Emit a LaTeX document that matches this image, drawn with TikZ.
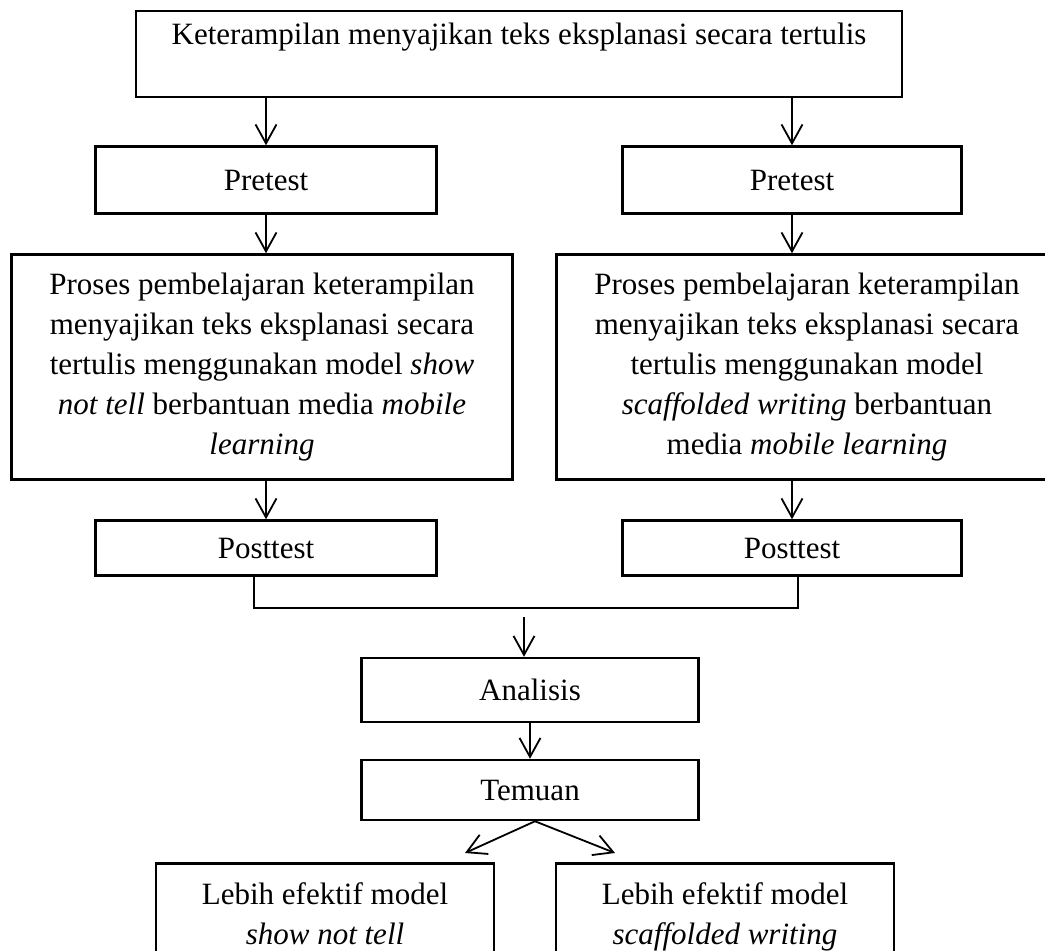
\documentclass[tikz,border=0pt]{standalone}
\usepackage{fontspec}
\setmainfont{Liberation Serif}
\usetikzlibrary{arrows.meta}
\begin{document}
\begin{tikzpicture}[x=1pt,y=-1pt,
    box/.style={draw,line width=2.5pt,inner sep=0pt,align=center,
      font=\fontsize{31}{40}\selectfont},
    arr/.style={line width=1.8pt,-{Straight Barb[length=19pt,width=21pt]}},
    link/.style={line width=1.8pt}]
  \clip (0,0) rectangle (1045,951);
  \node[box,minimum width=766pt,minimum height=86pt] (ketr) at (519,54)
    {Keterampilan menyajikan teks eksplanasi secara tertulis\\ \mbox{}};
  \node[box,minimum width=341pt,minimum height=67pt] (preL) at (266,180) {Pretest};
  \node[box,minimum width=339pt,minimum height=67pt] (preR) at (792,180) {Pretest};
  \node[box,minimum width=501pt,minimum height=225pt] (procL) at (262,367)
    {Proses pembelajaran keterampilan\\
     menyajikan teks eksplanasi secara\\
     tertulis menggunakan model \textit{show}\\
     \textit{not tell} berbantuan media \textit{mobile}\\
     \textit{learning}};
  \node[box,minimum width=501pt,minimum height=225pt] (procR) at (807,367)
    {Proses pembelajaran keterampilan\\
     menyajikan teks eksplanasi secara\\
     tertulis menggunakan model\\
     \textit{scaffolded writing} berbantuan\\
     media \textit{mobile learning}};
  \node[box,minimum width=341pt,minimum height=55pt] (postL) at (266,548) {Posttest};
  \node[box,minimum width=339pt,minimum height=55pt] (postR) at (792,548) {Posttest};
  \node[box,minimum width=337pt,minimum height=64pt] (ana) at (530,690) {Analisis};
  \node[box,minimum width=337pt,minimum height=60pt] (tem) at (530,790) {Temuan};
  \node[box,minimum width=338pt,minimum height=100pt,text depth=0pt,anchor=north] (hasilL) at (325,862)
    {Lebih efektif model\\ \textit{show not tell}};
  \node[box,minimum width=338pt,minimum height=100pt,text depth=0pt,anchor=north] (hasilR) at (725,862)
    {Lebih efektif model\\ \textit{scaffolded writing}};
  \coordinate (joinL) at (254,608);
  \coordinate (joinR) at (798,608);
  \coordinate (anaIn) at (524,617);
  \coordinate (tipL) at (465,853);
  \coordinate (tipR) at (615,853);
  \draw[arr] (ketr.south -| preL) -- (preL.north);
  \draw[arr] (ketr.south -| preR) -- (preR.north);
  \draw[arr] (preL.south) -- (preL.south |- procL.north);
  \draw[arr] (preR.south) -- (preR.south |- procR.north);
  \draw[arr] (procL.south -| postL) -- (postL.north);
  \draw[arr] (procR.south -| postR) -- (postR.north);
  \draw[link] (postL.south -| joinL) -- (joinL) -- (joinR) -- (postR.south -| joinR);
  \draw[arr] (anaIn) -- (anaIn |- ana.north);
  \draw[arr] (ana.south) -- (tem.north);
  \draw[arr] ([xshift=5pt]tem.south) -- (tipL);
  \draw[arr] ([xshift=5pt]tem.south) -- (tipR);
\end{tikzpicture}
\end{document}
